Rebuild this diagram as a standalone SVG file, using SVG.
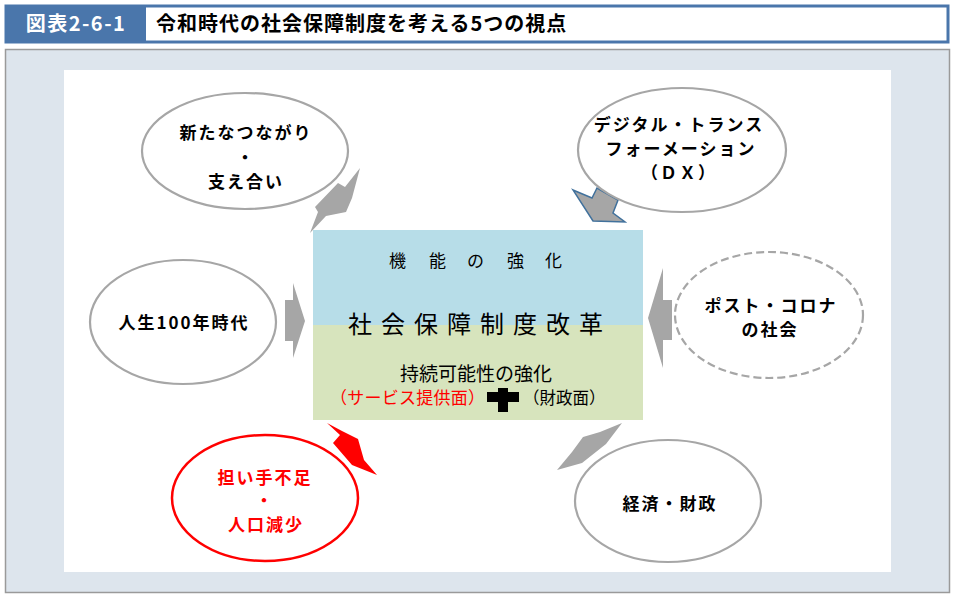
<svg xmlns="http://www.w3.org/2000/svg" width="956" height="599" viewBox="0 0 956 599">
<style>
.jp{font-family:"Noto Sans CJK JP","Noto Sans",sans-serif;}
.b{font-weight:bold;font-size:17px;letter-spacing:2px;text-anchor:middle;fill:#000;}
.ell{fill:#fff;stroke:#a6a6a6;stroke-width:2.2;}
.arr{fill:#a6a6a6;stroke:none;}
</style>
<rect x="0" y="0" width="956" height="599" fill="#fff"/>
<g id="header">
<rect x="6" y="6" width="942" height="36" fill="#fff" stroke="#4a76ab" stroke-width="3"/>
<rect x="6" y="6" width="140" height="36" fill="#4a76ab"/>
<text x="76" y="31" class="jp" font-size="20" font-weight="bold" fill="#fff" text-anchor="middle" letter-spacing="1.5">図表2-6-1</text>
<text x="156" y="31" class="jp" font-size="20" font-weight="bold" fill="#000" letter-spacing="1">令和時代の社会保障制度を考える5つの視点</text>
</g>
<g id="panel">
<rect x="5.5" y="49.5" width="944" height="543" fill="#dde5ed" stroke="#9a9a9a" stroke-width="1.5"/>
<rect x="64" y="70" width="827" height="502" fill="#fff"/>
</g>
<g id="center">
<rect x="313" y="230" width="330" height="95" fill="#b7dde8"/>
<rect x="313" y="325" width="330" height="95" fill="#d7e4bd"/>
<text y="267" class="jp" font-size="17" fill="#000"><tspan x="389">機</tspan><tspan x="429">能</tspan><tspan x="467">の</tspan><tspan x="507">強</tspan><tspan x="545">化</tspan></text>
<text y="333" class="jp" font-size="24" fill="#000"><tspan x="348">社</tspan><tspan x="381">会</tspan><tspan x="414">保</tspan><tspan x="447">障</tspan><tspan x="480">制</tspan><tspan x="513">度</tspan><tspan x="546">改</tspan><tspan x="579">革</tspan></text>
<text x="476" y="381" class="jp" font-size="19" fill="#000" text-anchor="middle">持続可能性の強化</text>
<text x="330" y="404" class="jp" font-size="17" fill="#ff0000" textLength="155">（サービス提供面）</text>
<path d="M487,392 H498 V388 H508 V392 H519 V402 H508 V412 H498 V402 H487 Z" fill="#000"/>
<text x="523" y="404" class="jp" font-size="16.5" fill="#000">（財政面）</text>
</g>
<g id="connectors">
<polygon class="arr" points="360,168 352,198 346,212 326,216 310,233 318,212 315,207 338,183 345,187"/>
<polygon points="573,190 592,198 597,188 618,200 613,213 625,222 593,221" fill="#a6a6a6" stroke="#41719c" stroke-width="1.5" stroke-linejoin="miter"/>
<polygon class="arr" points="285,300 293,300 293,283 305,321 293,358 293,341 285,341"/>
<polygon class="arr" points="672,300 663,300 663,268 648,318 663,368 663,340 672,340"/>
<polygon points="327,423 342,431 358,439 364,460 377,475 352,465 333,443 340,435" fill="#ff0000"/>
<polygon class="arr" points="622,423 606,444 582,463 557,470 572,452 583,437 600,432"/>
</g>
<g id="node-tsunagari">
<ellipse cx="245" cy="151" rx="103" ry="58" class="ell"/>
<text x="246" y="139" class="jp b">新たなつながり</text>
<text x="246" y="164" class="jp b">・</text>
<text x="246" y="188" class="jp b">支え合い</text>
</g>
<g id="node-dx">
<ellipse cx="682" cy="150" rx="104" ry="62" class="ell"/>
<text x="679" y="131" class="jp b">デジタル・トランス</text>
<text x="681" y="155" class="jp b">フォーメーション</text>
<text x="679" y="179" class="jp b">（ＤＸ）</text>
</g>
<g id="node-jinsei">
<ellipse cx="183" cy="322" rx="93" ry="62" class="ell"/>
<text x="184" y="329" class="jp b" font-size="18" letter-spacing="0.5">人生100年時代</text>
</g>
<g id="node-postcorona">
<ellipse cx="769" cy="315" rx="94" ry="63" fill="#fff" stroke="#a6a6a6" stroke-width="2.2" stroke-dasharray="8,4"/>
<text x="771" y="312" class="jp b">ポスト・コロナ</text>
<text x="770" y="336" class="jp b">の社会</text>
</g>
<g id="node-ninaite">
<ellipse cx="265" cy="498" rx="93" ry="63" fill="#fff" stroke="#ff0000" stroke-width="2.5"/>
<text x="265" y="484" class="jp b" style="fill:#ff0000">担い手不足</text>
<text x="265" y="507" class="jp b" style="fill:#ff0000">・</text>
<text x="266" y="531" class="jp b" style="fill:#ff0000">人口減少</text>
</g>
<g id="node-keizai">
<ellipse cx="668" cy="501" rx="93" ry="61" class="ell"/>
<text x="670" y="510" class="jp b">経済・財政</text>
</g>
</svg>
